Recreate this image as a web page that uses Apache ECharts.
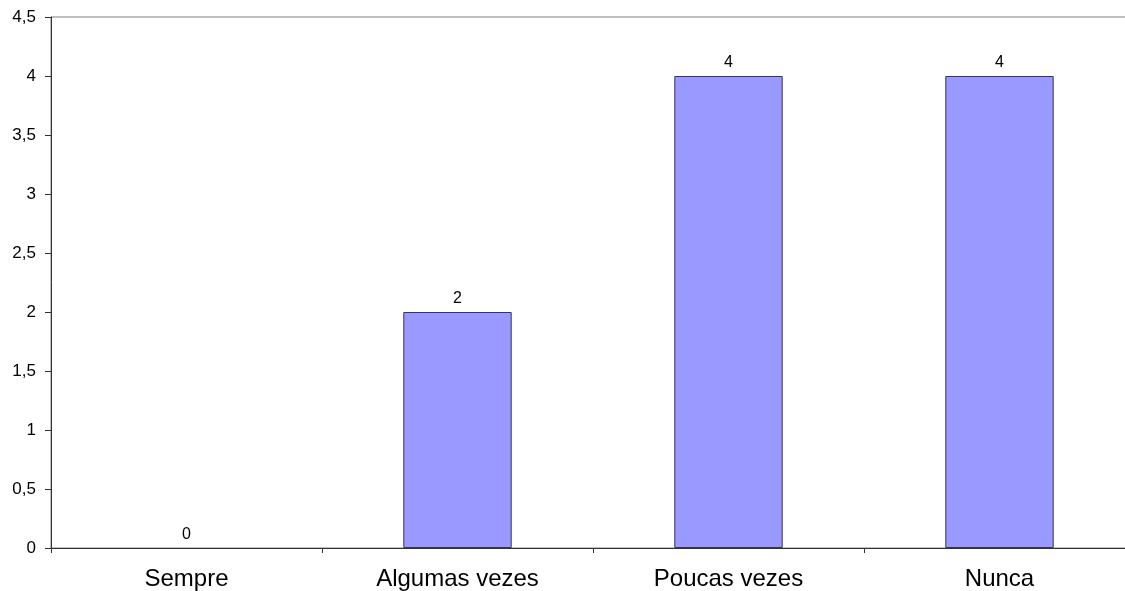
<!DOCTYPE html>
<html>
<head>
<meta charset="utf-8">
<script src="https://cdn.jsdelivr.net/npm/echarts@6/dist/echarts.min.js"></script>
<style>
  html, body { margin: 0; padding: 0; background: #ffffff; overflow: hidden; }
  /* the plot runs past the right edge of the window, so the canvas is wider */
  #chart { width: 1145px; height: 591px; }
</style>
</head>
<body>
<div id="chart"></div>
<script>
// Response categories and counts
const categories = ['Sempre', 'Algumas vezes', 'Poucas vezes', 'Nunca'];
const counts = [0, 2, 4, 4];
const yMin = 0, yMax = 4.5, yStep = 0.5;

const comma = v => String(v).replace('.', ',');
const font = 'Liberation Sans, Arial, sans-serif';

const chart = echarts.init(document.getElementById('chart'), null, { renderer: 'canvas' });
chart.setOption({
  animation: false,
  backgroundColor: '#ffffff',
  grid: {
    left: 51,
    top: 17,
    width: 1084,
    height: 532,
    show: true,
    borderColor: '#808080',
    borderWidth: 1,
    backgroundColor: 'transparent'
  },
  xAxis: {
    type: 'category',
    data: categories,
    boundaryGap: true,
    axisLine: { show: true, lineStyle: { color: '#333333', width: 1 } },
    axisTick: { show: true, length: 5, lineStyle: { color: '#333333' } },
    axisLabel: {
      color: '#000000',
      fontFamily: font,
      fontSize: 24,
      margin: 19
    },
    splitLine: { show: false }
  },
  yAxis: {
    type: 'value',
    min: yMin,
    max: yMax,
    interval: yStep,
    axisLine: { show: true, lineStyle: { color: '#333333', width: 1 } },
    axisTick: { show: true, length: 6, lineStyle: { color: '#333333' } },
    axisLabel: {
      color: '#000000',
      fontFamily: font,
      fontSize: 17,
      margin: 15,
      formatter: v => comma(v)
    },
    splitLine: { show: false }
  },
  series: [{
    type: 'bar',
    data: counts.map(v => ({
      value: v,
      itemStyle: { borderWidth: v === 0 ? 0 : 1 }
    })),
    barWidth: '40%',
    itemStyle: {
      color: '#9999FF',
      borderColor: '#333366',
      borderWidth: 1
    },
    label: {
      show: true,
      position: 'top',
      distance: 5,
      color: '#000000',
      fontFamily: font,
      fontSize: 16,
      formatter: p => comma(p.value)
    }
  }]
});
</script>
</body>
</html>
